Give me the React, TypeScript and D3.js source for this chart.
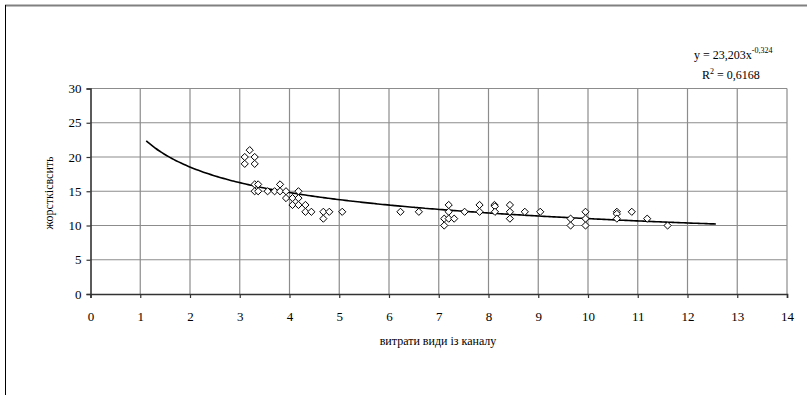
import React, { useEffect, useRef } from 'react';
import * as d3 from 'd3';

// Scatter data: витрати води (x) vs жорсткість (y)
const xValues = [
  3.1, 3.1, 3.2, 3.3, 3.3, 3.3, 3.37, 3.3, 3.37, 3.56, 3.7, 3.81, 3.81, 3.93, 3.93,
  4.06, 4.06, 4.18, 4.18, 4.18, 4.32, 4.32, 4.44, 4.68, 4.68, 4.8, 5.06, 6.23, 6.6,
  7.2, 7.2, 7.11, 7.2, 7.31, 7.11, 7.52, 7.82, 7.82, 8.12, 8.13, 8.13, 8.43, 8.43, 8.43,
  8.73, 9.04, 9.65, 9.65, 9.95, 9.95, 9.95, 10.58, 10.58, 10.58, 10.88, 11.19, 11.6,
];
const yValues = [
  20, 19, 21, 20, 19, 16, 16, 15, 15, 15, 15, 16, 15, 15, 14,
  14, 13, 15, 14, 13, 13, 12, 12, 12, 11, 12, 12, 12, 12,
  13, 12, 11, 11, 11, 10, 12, 13, 12, 13, 12.8, 12, 13, 12, 11,
  12, 12, 11, 10, 12, 11, 10, 12, 11.7, 11, 12, 11, 10,
];

// Power trendline y = a * x^b
const trendA = 23.203;
const trendB = -0.324;
const trendRange = [1.12, 12.6];

const xTicks = d3.range(0, 15);
const yTicks = [0, 5, 10, 15, 20, 25, 30];

const xTitle = 'витрати види із каналу';
const yTitle = 'жорсткісвсить';

export default function App() {
  const svgRef = useRef<SVGSVGElement>(null);

  useEffect(() => {
    const width = 807;
    const height = 395;
    const svg = d3.select(svgRef.current).attr('width', width).attr('height', height)
      .style('font-family', "'Liberation Serif', 'DejaVu Serif', serif");
    svg.selectAll('*').remove();

    const font = "'Liberation Serif', 'DejaVu Serif', serif";
    const x = d3.scaleLinear().domain([0, 14]).range([90.5, 787]);
    const y = d3.scaleLinear().domain([0, 30]).range([294, 88.5]);

    // Outer frame (top + left visible)
    svg.append('line').attr('x1', 5).attr('x2', width).attr('y1', 5.5).attr('y2', 5.5)
      .attr('stroke', '#808080').attr('stroke-width', 2);
    svg.append('line').attr('x1', 5.5).attr('x2', 5.5).attr('y1', 5).attr('y2', height)
      .attr('stroke', '#000').attr('stroke-width', 1);

    const g = svg.append('g');

    // Grid
    g.selectAll('.vgrid').data(xTicks.slice(1)).join('line').attr('class', 'vgrid')
      .attr('x1', d => x(d)).attr('x2', d => x(d)).attr('y1', y(0)).attr('y2', y(30))
      .attr('stroke', '#8c8c8c').attr('stroke-width', 1.2);
    g.selectAll('.hgrid').data(yTicks.slice(1)).join('line').attr('class', 'hgrid')
      .attr('x1', x(0)).attr('x2', x(14)).attr('y1', d => y(d)).attr('y2', d => y(d))
      .attr('stroke', '#8c8c8c').attr('stroke-width', 1.2);

    // Axes
    const xAxis = g.append('g').attr('transform', `translate(0,${y(0)})`)
      .call(d3.axisBottom(x).tickValues(xTicks).tickSize(4).tickPadding(14).tickFormat(d3.format('d')));
    const yAxis = g.append('g').attr('transform', `translate(${x(0)},0)`)
      .call(d3.axisLeft(y).tickValues(yTicks).tickSize(4).tickPadding(5).tickFormat(d3.format('d')));
    [xAxis, yAxis].forEach(ax => {
      ax.attr('font-family', null).style('font-family', font);
      ax.select('.domain').attr('stroke', '#333').attr('stroke-width', 1.6);
      ax.selectAll('.tick line').attr('stroke', '#333').attr('stroke-width', 1.2);
      ax.selectAll('text').style('font-family', font).attr('font-size', 13).attr('fill', '#000');
    });

    // Trendline
    const trendPts = d3.range(trendRange[0], trendRange[1] + 0.001, 0.05)
      .map(v => [v, trendA * Math.pow(v, trendB)] as [number, number]);
    g.append('path').datum(trendPts)
      .attr('d', d3.line<[number, number]>().x(d => x(d[0])).y(d => y(d[1])).curve(d3.curveMonotoneX))
      .attr('fill', 'none').attr('stroke', '#000').attr('stroke-width', 1.6);

    // Markers
    const pts = xValues.map((v, i) => ({ x: v, y: yValues[i] }));
    const r = 3.6;
    g.selectAll('.pt').data(pts).join('path').attr('class', 'pt')
      .attr('transform', d => `translate(${x(d.x)},${y(d.y)})`)
      .attr('d', `M0,${-r}L${r},0L0,${r}L${-r},0Z`)
      .attr('fill', '#fff').attr('stroke', '#000').attr('stroke-width', 1);

    // Axis titles
    svg.append('text').attr('x', 438).attr('y', 345).attr('text-anchor', 'middle')
      .style('font-family', font).attr('font-size', 12).text(xTitle);
    svg.append('text').attr('transform', 'translate(53,193) rotate(-90)').attr('text-anchor', 'middle')
      .style('font-family', font).attr('font-size', 12).text(yTitle);

    // Trend equation
    const eq = svg.append('text').attr('x', 694).attr('y', 59)
      .style('font-family', font).attr('font-size', 12);
    eq.append('tspan').text('y = 23,203x');
    eq.append('tspan').attr('dy', -6).attr('font-size', 8).text('-0,324');
    const r2 = svg.append('text').attr('x', 702).attr('y', 79)
      .style('font-family', font).attr('font-size', 12);
    r2.append('tspan').text('R');
    r2.append('tspan').attr('dy', -5).attr('font-size', 8).text('2');
    r2.append('tspan').attr('dy', 5).text(' = 0,6168');
  }, []);

  return (
    <div style={{ position: 'absolute', left: 0, top: 0, width: 807, height: 395, background: '#fff' }}>
      <svg ref={svgRef} style={{ display: 'block' }} />
    </div>
  );
}
